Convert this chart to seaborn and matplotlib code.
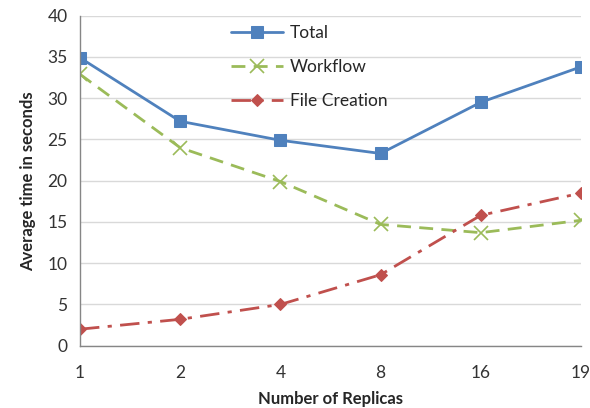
import matplotlib
matplotlib.use("Agg")
import matplotlib.pyplot as plt
import seaborn as sns
import pandas as pd
import numpy as np

replicas = ["1", "2", "4", "8", "16", "19"]
total = [34.9, 27.2, 24.9, 23.3, 29.5, 33.8]
workflow = [32.9, 24.0, 19.9, 14.7, 13.7, 15.2]
file_creation = [2.0, 3.2, 5.0, 8.6, 15.8, 18.5]

sns.set_style("white")
plt.rcParams['font.family'] = ['Lato', 'DejaVu Sans']

pos = np.arange(len(replicas))
df = pd.DataFrame({"pos": pos, "Total": total, "Workflow": workflow, "File Creation": file_creation})

fig = plt.figure(figsize=(5.9, 4.08), dpi=100)
ax = fig.add_axes([0.1356, 0.1527, 0.849, 0.8088])

sns.lineplot(data=df, x="pos", y="Total", ax=ax, color="#4F81BD", lw=2,
             marker="s", markersize=8, markeredgecolor="#4F81BD", legend=False)
sns.lineplot(data=df, x="pos", y="Workflow", ax=ax, color="#9BBB59", lw=2,
             marker="x", markersize=10, markeredgewidth=1.2, markeredgecolor="#9BBB59",
             legend=False)
sns.lineplot(data=df, x="pos", y="File Creation", ax=ax, color="#C0504D", lw=2,
             marker="D", markersize=6, markeredgecolor="#C0504D", legend=False)
lines = ax.lines[:3]
lines[1].set_dashes([5, 3])
lines[2].set_dashes([7, 3, 1.5, 3])
for ln, lab in zip(lines, ["Total", "Workflow", "File Creation"]):
    ln.set_label(lab)

ax.set_xlim(0, len(replicas) - 1)
ax.set_ylim(0, 40)
ax.set_yticks(range(0, 41, 5))
ax.set_xticks(pos)
ax.set_xticklabels(replicas)
ax.yaxis.grid(True, color="#D9D9D9", lw=1)
ax.set_axisbelow(True)
for s in ["top", "right"]:
    ax.spines[s].set_visible(False)
for s in ["left", "bottom"]:
    ax.spines[s].set_color("#868686")
    ax.spines[s].set_linewidth(1)
ax.tick_params(axis="both", which="both", direction="out", length=5, color="#868686",
               labelsize=12.5, labelcolor="#333333", pad=4)
ax.tick_params(axis="x", pad=9)
ax.set_xlabel("Number of Replicas", fontsize=12, fontweight="bold", labelpad=7)
ax.set_ylabel("Average time in seconds", fontsize=12, fontweight="bold", labelpad=8)

leg = ax.legend(handles=lines, loc="upper left", bbox_to_anchor=(0.27, 1.02), frameon=False,
                fontsize=12.5, handlelength=3.0, labelspacing=1.05, handletextpad=0.4)
fig.savefig("out.png", dpi=100)
